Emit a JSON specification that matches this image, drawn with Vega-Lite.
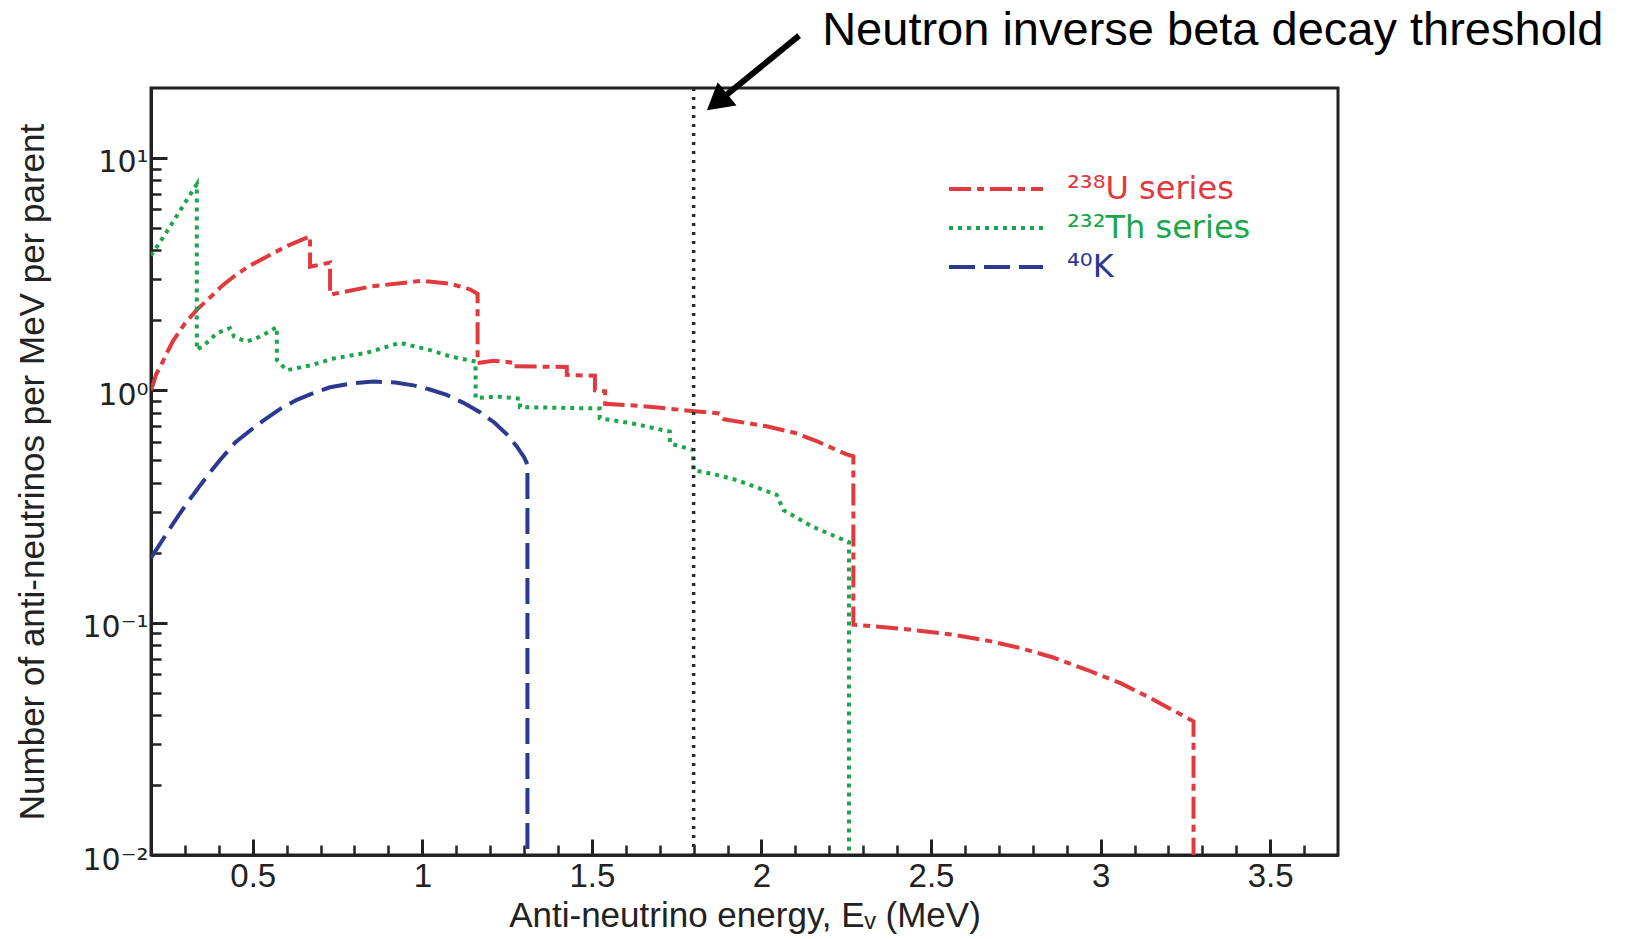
{
  "$schema": "https://vega.github.io/schema/vega-lite/v6.json",
  "width": 1187,
  "height": 767,
  "autosize": "none",
  "padding": {"left": 151, "top": 88, "right": 294, "bottom": 84},
  "background": "white",
  "config": {
    "font": "Liberation Sans",
    "view": {"stroke": "#222", "strokeWidth": 3}
  },
  "datasets": {
    "spectra": [
      {"series": "U", "i": 0, "E": 0.2, "v": 1.0},
      {"series": "U", "i": 1, "E": 0.207, "v": 1.07},
      {"series": "U", "i": 2, "E": 0.215, "v": 1.17},
      {"series": "U", "i": 3, "E": 0.235, "v": 1.33},
      {"series": "U", "i": 4, "E": 0.25, "v": 1.48},
      {"series": "U", "i": 5, "E": 0.266, "v": 1.64},
      {"series": "U", "i": 6, "E": 0.285, "v": 1.8},
      {"series": "U", "i": 7, "E": 0.3, "v": 1.94},
      {"series": "U", "i": 8, "E": 0.335, "v": 2.22},
      {"series": "U", "i": 9, "E": 0.36, "v": 2.4},
      {"series": "U", "i": 10, "E": 0.39, "v": 2.64},
      {"series": "U", "i": 11, "E": 0.41, "v": 2.82},
      {"series": "U", "i": 12, "E": 0.443, "v": 3.08},
      {"series": "U", "i": 13, "E": 0.49, "v": 3.43},
      {"series": "U", "i": 14, "E": 0.541, "v": 3.76},
      {"series": "U", "i": 15, "E": 0.6, "v": 4.17},
      {"series": "U", "i": 16, "E": 0.669, "v": 4.6},
      {"series": "U", "i": 17, "E": 0.669, "v": 3.4},
      {"series": "U", "i": 18, "E": 0.728, "v": 3.55},
      {"series": "U", "i": 19, "E": 0.728, "v": 2.58},
      {"series": "U", "i": 20, "E": 0.85, "v": 2.8},
      {"series": "U", "i": 21, "E": 1.0, "v": 2.96},
      {"series": "U", "i": 22, "E": 1.08, "v": 2.88},
      {"series": "U", "i": 23, "E": 1.14, "v": 2.72},
      {"series": "U", "i": 24, "E": 1.163, "v": 2.6},
      {"series": "U", "i": 25, "E": 1.163, "v": 1.31},
      {"series": "U", "i": 26, "E": 1.21, "v": 1.34},
      {"series": "U", "i": 27, "E": 1.259, "v": 1.32},
      {"series": "U", "i": 28, "E": 1.259, "v": 1.27},
      {"series": "U", "i": 29, "E": 1.426, "v": 1.26},
      {"series": "U", "i": 30, "E": 1.426, "v": 1.165},
      {"series": "U", "i": 31, "E": 1.509, "v": 1.155},
      {"series": "U", "i": 32, "E": 1.509, "v": 1.0},
      {"series": "U", "i": 33, "E": 1.539, "v": 0.99},
      {"series": "U", "i": 34, "E": 1.539, "v": 0.875},
      {"series": "U", "i": 35, "E": 1.65, "v": 0.855},
      {"series": "U", "i": 36, "E": 1.794, "v": 0.815},
      {"series": "U", "i": 37, "E": 1.875, "v": 0.795},
      {"series": "U", "i": 38, "E": 1.89, "v": 0.75},
      {"series": "U", "i": 39, "E": 2.015, "v": 0.7},
      {"series": "U", "i": 40, "E": 2.1, "v": 0.655},
      {"series": "U", "i": 41, "E": 2.163, "v": 0.604},
      {"series": "U", "i": 42, "E": 2.251, "v": 0.53},
      {"series": "U", "i": 43, "E": 2.271, "v": 0.52},
      {"series": "U", "i": 44, "E": 2.271, "v": 0.098},
      {"series": "U", "i": 45, "E": 2.42, "v": 0.094},
      {"series": "U", "i": 46, "E": 2.566, "v": 0.0887},
      {"series": "U", "i": 47, "E": 2.67, "v": 0.0835},
      {"series": "U", "i": 48, "E": 2.763, "v": 0.0778},
      {"series": "U", "i": 49, "E": 2.86, "v": 0.0708},
      {"series": "U", "i": 50, "E": 2.959, "v": 0.0627},
      {"series": "U", "i": 51, "E": 3.06, "v": 0.0548},
      {"series": "U", "i": 52, "E": 3.156, "v": 0.0466},
      {"series": "U", "i": 53, "E": 3.274, "v": 0.0376},
      {"series": "U", "i": 54, "E": 3.274, "v": 0.01},

      {"series": "Th", "i": 0, "E": 0.2, "v": 3.8},
      {"series": "Th", "i": 1, "E": 0.25, "v": 4.9},
      {"series": "Th", "i": 2, "E": 0.3, "v": 6.4},
      {"series": "Th", "i": 3, "E": 0.335, "v": 7.7},
      {"series": "Th", "i": 4, "E": 0.335, "v": 1.49},
      {"series": "Th", "i": 5, "E": 0.36, "v": 1.58},
      {"series": "Th", "i": 6, "E": 0.394, "v": 1.76},
      {"series": "Th", "i": 7, "E": 0.433, "v": 1.85},
      {"series": "Th", "i": 8, "E": 0.445, "v": 1.7},
      {"series": "Th", "i": 9, "E": 0.482, "v": 1.62},
      {"series": "Th", "i": 10, "E": 0.521, "v": 1.7},
      {"series": "Th", "i": 11, "E": 0.571, "v": 1.87},
      {"series": "Th", "i": 12, "E": 0.571, "v": 1.35},
      {"series": "Th", "i": 13, "E": 0.6, "v": 1.22},
      {"series": "Th", "i": 14, "E": 0.67, "v": 1.28},
      {"series": "Th", "i": 15, "E": 0.738, "v": 1.37},
      {"series": "Th", "i": 16, "E": 0.836, "v": 1.45},
      {"series": "Th", "i": 17, "E": 0.934, "v": 1.6},
      {"series": "Th", "i": 18, "E": 1.023, "v": 1.49},
      {"series": "Th", "i": 19, "E": 1.082, "v": 1.4},
      {"series": "Th", "i": 20, "E": 1.157, "v": 1.33},
      {"series": "Th", "i": 21, "E": 1.157, "v": 0.925},
      {"series": "Th", "i": 22, "E": 1.22, "v": 0.94},
      {"series": "Th", "i": 23, "E": 1.288, "v": 0.92},
      {"series": "Th", "i": 24, "E": 1.288, "v": 0.846},
      {"series": "Th", "i": 25, "E": 1.523, "v": 0.835},
      {"series": "Th", "i": 26, "E": 1.523, "v": 0.758},
      {"series": "Th", "i": 27, "E": 1.62, "v": 0.72},
      {"series": "Th", "i": 28, "E": 1.73, "v": 0.664},
      {"series": "Th", "i": 29, "E": 1.73, "v": 0.591},
      {"series": "Th", "i": 30, "E": 1.799, "v": 0.553},
      {"series": "Th", "i": 31, "E": 1.799, "v": 0.454},
      {"series": "Th", "i": 32, "E": 1.86, "v": 0.435},
      {"series": "Th", "i": 33, "E": 1.927, "v": 0.411},
      {"series": "Th", "i": 34, "E": 2.045, "v": 0.355},
      {"series": "Th", "i": 35, "E": 2.065, "v": 0.305},
      {"series": "Th", "i": 36, "E": 2.15, "v": 0.259},
      {"series": "Th", "i": 37, "E": 2.258, "v": 0.222},
      {"series": "Th", "i": 38, "E": 2.258, "v": 0.01},

      {"series": "K", "i": 0, "E": 0.2, "v": 0.19},
      {"series": "K", "i": 1, "E": 0.235, "v": 0.228},
      {"series": "K", "i": 2, "E": 0.266, "v": 0.268},
      {"series": "K", "i": 3, "E": 0.305, "v": 0.325},
      {"series": "K", "i": 4, "E": 0.345, "v": 0.39},
      {"series": "K", "i": 5, "E": 0.375, "v": 0.445},
      {"series": "K", "i": 6, "E": 0.403, "v": 0.5},
      {"series": "K", "i": 7, "E": 0.45, "v": 0.6},
      {"series": "K", "i": 8, "E": 0.5, "v": 0.685},
      {"series": "K", "i": 9, "E": 0.531, "v": 0.74},
      {"series": "K", "i": 10, "E": 0.58, "v": 0.83},
      {"series": "K", "i": 11, "E": 0.63, "v": 0.91},
      {"series": "K", "i": 12, "E": 0.68, "v": 0.975},
      {"series": "K", "i": 13, "E": 0.728, "v": 1.03},
      {"series": "K", "i": 14, "E": 0.79, "v": 1.07},
      {"series": "K", "i": 15, "E": 0.856, "v": 1.09},
      {"series": "K", "i": 16, "E": 0.92, "v": 1.08},
      {"series": "K", "i": 17, "E": 0.974, "v": 1.05},
      {"series": "K", "i": 18, "E": 1.02, "v": 1.01},
      {"series": "K", "i": 19, "E": 1.072, "v": 0.955},
      {"series": "K", "i": 20, "E": 1.12, "v": 0.885},
      {"series": "K", "i": 21, "E": 1.17, "v": 0.805},
      {"series": "K", "i": 22, "E": 1.213, "v": 0.725},
      {"series": "K", "i": 23, "E": 1.25, "v": 0.645},
      {"series": "K", "i": 24, "E": 1.278, "v": 0.575},
      {"series": "K", "i": 25, "E": 1.3, "v": 0.515},
      {"series": "K", "i": 26, "E": 1.31, "v": 0.48},
      {"series": "K", "i": 27, "E": 1.31, "v": 0.01}
    ]
  },
  "layer": [
    {
      "data": {"name": "spectra"},
      "mark": {"type": "line", "strokeWidth": 4, "strokeCap": "butt", "clip": true},
      "encoding": {
        "x": {
          "field": "E", "type": "quantitative",
          "scale": {"domain": [0.2, 3.7], "nice": false, "zero": false},
          "axis": {
            "orient": "bottom",
            "values": [0.5, 1, 1.5, 2, 2.5, 3, 3.5],
            "format": "~g",
            "grid": false,
            "tickSize": -16, "tickWidth": 3, "tickColor": "#222",
            "domainColor": "#222", "domainWidth": 3,
            "labelFontSize": 33, "labelColor": "#222", "labelPadding": 21,
            "labelFlush": false, "labelOverlap": false,
            "title": "Anti-neutrino energy, Eᵥ (MeV)",
            "titleFontSize": 35, "titleFontWeight": "normal", "titleColor": "#222",
            "titleY": 71, "titleBaseline": "alphabetic"
          }
        },
        "y": {
          "field": "v", "type": "quantitative",
          "scale": {"type": "log", "domain": [0.01, 20], "nice": false},
          "axis": {
            "orient": "left",
            "values": [0.01, 0.1, 1, 10],
            "labelExpr": "datum.value >= 5 ? '10¹' : datum.value >= 0.5 ? '10⁰' : datum.value >= 0.05 ? '10⁻¹' : '10⁻²'",
            "grid": false,
            "tickSize": -16, "tickWidth": 3, "tickColor": "#222",
            "domainColor": "#222", "domainWidth": 3,
            "labelFont": "DejaVu Sans",
            "labelFontSize": 30, "labelColor": "#222", "labelPadding": 19,
            "labelOffset": 5,
            "labelFlush": false, "labelOverlap": false,
            "title": "Number of anti-neutrinos per MeV per parent",
            "titleFontSize": 35, "titleFontWeight": "normal", "titleColor": "#222",
            "titleX": -119, "titleY": 383.5, "titleBaseline": "middle"
          }
        },
        "color": {
          "field": "series", "type": "nominal",
          "scale": {"domain": ["U", "Th", "K"], "range": ["#e0393e", "#1ba64b", "#2b3990"]},
          "legend": {
            "title": null,
            "orient": "none",
            "legendX": 796, "legendY": 84,
            "padding": 0,
            "symbolType": "stroke",
            "symbolSize": 8836,
            "symbolStrokeWidth": 4,
            "clipHeight": 34,
            "rowPadding": 5,
            "labelFontSize": 32,
            "labelFont": "DejaVu Sans",
            "labelOffset": 22,
            "labelLimit": 0,
            "labelExpr": "datum.value == 'U' ? '²³⁸U series' : datum.value == 'Th' ? '²³²Th series' : '⁴⁰K'",
            "labelColor": {"expr": "datum.value == 'U' ? '#e0393e' : datum.value == 'Th' ? '#1ba64b' : '#2b3990'"}
          }
        },
        "strokeDash": {
          "field": "series", "type": "nominal",
          "scale": {"domain": ["U", "Th", "K"], "range": [[22, 6, 7, 6], [4, 5], [26, 9]]},
          "legend": {
            "title": null,
            "orient": "none",
            "legendX": 796, "legendY": 84,
            "padding": 0,
            "symbolType": "stroke",
            "symbolSize": 8836,
            "symbolStrokeWidth": 4,
            "clipHeight": 34,
            "rowPadding": 5,
            "labelFontSize": 32,
            "labelFont": "DejaVu Sans",
            "labelOffset": 22,
            "labelLimit": 0,
            "labelExpr": "datum.value == 'U' ? '²³⁸U series' : datum.value == 'Th' ? '²³²Th series' : '⁴⁰K'",
            "labelColor": {"expr": "datum.value == 'U' ? '#e0393e' : datum.value == 'Th' ? '#1ba64b' : '#2b3990'"}
          }
        },
        "order": {"field": "i", "type": "quantitative"}
      }
    },
    {
      "data": {"values": [{"E": 1.8}]},
      "mark": {"type": "rule", "color": "#2a2a2a", "strokeWidth": 3.5, "strokeDash": [3, 6]},
      "encoding": {
        "x": {
          "field": "E", "type": "quantitative",
          "scale": {"domain": [0.2, 3.7], "nice": false, "zero": false},
          "axis": {
            "orient": "bottom",
            "values": [0.3, 0.4, 0.6, 0.7, 0.8, 0.9, 1.1, 1.2, 1.3, 1.4, 1.6, 1.7, 1.8, 1.9, 2.1, 2.2, 2.3, 2.4, 2.6, 2.7, 2.8, 2.9, 3.1, 3.2, 3.3, 3.4, 3.6],
            "labels": false, "domain": false, "grid": false, "title": null,
            "tickSize": -10, "tickWidth": 2.5, "tickColor": "#222"
          }
        }
      }
    },
    {
      "data": {"values": [{"E": 2.179, "v": 30.7, "label": "Neutron inverse beta decay threshold"}]},
      "mark": {"type": "text", "align": "left", "baseline": "alphabetic", "fontSize": 47, "font": "Liberation Sans", "color": "#000"},
      "encoding": {
        "x": {"field": "E", "type": "quantitative", "scale": {"domain": [0.2, 3.7], "nice": false, "zero": false}, "axis": null},
        "y": {
          "field": "v", "type": "quantitative",
          "scale": {"type": "log", "domain": [0.01, 20], "nice": false},
          "axis": {
            "orient": "left",
            "values": [0.02, 0.03, 0.04, 0.05, 0.06, 0.07, 0.08, 0.09, 0.2, 0.3, 0.4, 0.5, 0.6, 0.7, 0.8, 0.9, 2, 3, 4, 5, 6, 7, 8, 9],
            "labels": false, "domain": false, "grid": false, "title": null,
            "tickSize": -10, "tickWidth": 2.5, "tickColor": "#222"
          }
        },
        "text": {"field": "label"}
      }
    },
    {
      "data": {"values": [{"E": 2.111, "v": 33.6, "E2": 1.875, "v2": 17.6}]},
      "mark": {"type": "rule", "color": "#000", "strokeWidth": 6, "strokeCap": "butt"},
      "encoding": {
        "x": {"field": "E", "type": "quantitative", "scale": {"domain": [0.2, 3.7], "nice": false, "zero": false}, "axis": null},
        "y": {"field": "v", "type": "quantitative", "scale": {"type": "log", "domain": [0.01, 20], "nice": false}, "axis": null},
        "x2": {"field": "E2"},
        "y2": {"field": "v2"}
      }
    },
    {
      "data": {"values": [{"E": 1.869, "v": 17.4}]},
      "mark": {"type": "point", "shape": "triangle-up", "angle": 231, "size": 900, "filled": true, "color": "#000", "opacity": 1},
      "encoding": {
        "x": {"field": "E", "type": "quantitative", "scale": {"domain": [0.2, 3.7], "nice": false, "zero": false}, "axis": null},
        "y": {"field": "v", "type": "quantitative", "scale": {"type": "log", "domain": [0.01, 20], "nice": false}, "axis": null}
      }
    }
  ],
  "resolve": {"axis": {"x": "independent", "y": "independent"}}
}
